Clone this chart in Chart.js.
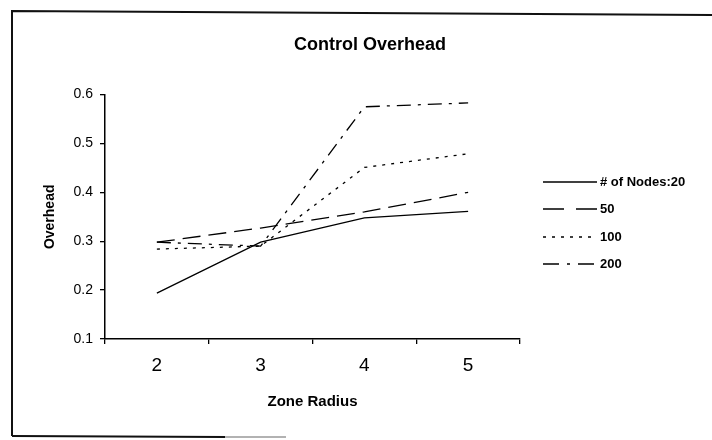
<!DOCTYPE html>
<html>
<head>
<meta charset="utf-8">
<script src="https://cdn.jsdelivr.net/npm/chart.js@4/dist/chart.umd.min.js"></script>
<style>
  html, body { margin: 0; padding: 0; background: #fff; }
  #wrap { width: 712px; height: 440px; position: relative; }
</style>
</head>
<body>
<div id="wrap"><canvas id="chart" width="712" height="440"></canvas></div>
<script>
// chart data
const zoneRadius = ['2', '3', '4', '5'];
const seriesNames = ['# of Nodes:20', '50', '100', '200'];
const nodes20 = [0.194, 0.298, 0.348, 0.361];
const nodes50 = [0.298, 0.327, 0.360, 0.400];
const nodes100 = [0.284, 0.290, 0.451, 0.479];
const nodes200 = [0.298, 0.290, 0.575, 0.583];
const yTicks = [0.1, 0.2, 0.3, 0.4, 0.5, 0.6];

const dashes = [[], [18, 8], [3, 6], [14, 7, 3, 7]];
const legendDashes = [[], [21, 12], [3, 6], [16, 8, 3, 8]];
const seriesData = [nodes20, nodes50, nodes100, nodes200];

const fontFamily = '"Liberation Sans", Arial, sans-serif';

// scanned page frame
const framePlugin = {
    id: 'frame',
    afterDraw(chart) {
        const ctx = chart.ctx;
        ctx.save();
        ctx.strokeStyle = '#111';
        ctx.lineWidth = 2;
        ctx.beginPath();
        ctx.moveTo(12, 436);
        ctx.lineTo(12, 11);
        ctx.lineTo(712, 15);
        ctx.stroke();
        ctx.beginPath();
        ctx.moveTo(12, 436);
        ctx.lineTo(225, 437);
        ctx.stroke();
        ctx.strokeStyle = '#999';
        ctx.lineWidth = 1.5;
        ctx.beginPath();
        ctx.moveTo(225, 437);
        ctx.lineTo(286, 437);
        ctx.stroke();
        ctx.restore();
    }
};

// legend with line samples
const legendPlugin = {
    id: 'lineLegend',
    afterDraw(chart) {
        const ctx = chart.ctx;
        const rows = [182, 209, 237, 264];
        ctx.save();
        chart.data.datasets.forEach(function (ds, i) {
            const y = rows[i];
            ctx.strokeStyle = '#000';
            ctx.lineWidth = 1.3;
            ctx.setLineDash(legendDashes[i]);
            ctx.beginPath();
            ctx.moveTo(543, y);
            ctx.lineTo(597, y);
            ctx.stroke();
            ctx.setLineDash([]);
            ctx.fillStyle = '#000';
            ctx.font = 'bold 13px ' + fontFamily;
            ctx.textBaseline = 'middle';
            ctx.textAlign = 'left';
            ctx.fillText(ds.label, 600, y);
        });
        ctx.restore();
    }
};

const ctxChart = document.getElementById('chart').getContext('2d');

new Chart(ctxChart, {
    type: 'line',
    data: {
        labels: zoneRadius,
        datasets: seriesNames.map(function (name, i) {
            return {
                label: name,
                data: seriesData[i],
                borderColor: '#000',
                borderWidth: 1.3,
                borderDash: dashes[i],
                pointRadius: 0,
                fill: false,
                tension: 0
            };
        })
    },
    options: {
        responsive: false,
        animation: false,
        layout: { padding: { left: 28, right: 0, top: 0, bottom: 0 } },
        plugins: {
            legend: { display: false },
            tooltip: { enabled: false },
            title: {
                display: true,
                text: 'Control Overhead',
                color: '#000',
                font: { size: 18, weight: 'bold', family: fontFamily },
                padding: { top: 34, bottom: 39 }
            }
        },
        scales: {
            x: {
                offset: true,
                grid: {
                    offset: true,
                    drawOnChartArea: false,
                    drawTicks: true,
                    tickLength: 5,
                    color: '#000',
                    lineWidth: 1.3
                },
                border: { display: true, color: '#000', width: 1.5 },
                ticks: {
                    color: '#000',
                    padding: 10,
                    font: { size: 19, family: fontFamily }
                },
                title: {
                    display: true,
                    text: 'Zone Radius',
                    color: '#000',
                    font: { size: 15, weight: 'bold', family: fontFamily },
                    padding: { top: 0, bottom: 29 }
                },
                afterFit(scale) { scale.height = 101; }
            },
            y: {
                min: 0.1,
                max: 0.6,
                afterBuildTicks(scale) {
                    scale.ticks = yTicks.map(function (v) { return { value: v }; });
                },
                grid: {
                    drawOnChartArea: false,
                    drawTicks: true,
                    tickLength: 5,
                    color: '#000',
                    lineWidth: 1.3
                },
                border: { display: true, color: '#000', width: 1.5 },
                ticks: {
                    color: '#000',
                    padding: 7,
                    font: { size: 14, family: fontFamily },
                    callback: function (v) { return Number(v).toFixed(1); }
                },
                title: {
                    display: true,
                    text: 'Overhead',
                    color: '#000',
                    font: { size: 14, weight: 'bold', family: fontFamily },
                    padding: { top: 14, bottom: 0 }
                },
                afterFit(scale) { scale.width = 77; }
            },
            // empty right-hand space that holds the legend
            legendSpace: {
                type: 'linear',
                position: 'right',
                display: true,
                grid: { display: false, drawTicks: false },
                border: { display: false },
                ticks: { display: false },
                afterFit(scale) { scale.width = 192; }
            }
        }
    },
    plugins: [framePlugin, legendPlugin]
});
</script>
</body>
</html>
